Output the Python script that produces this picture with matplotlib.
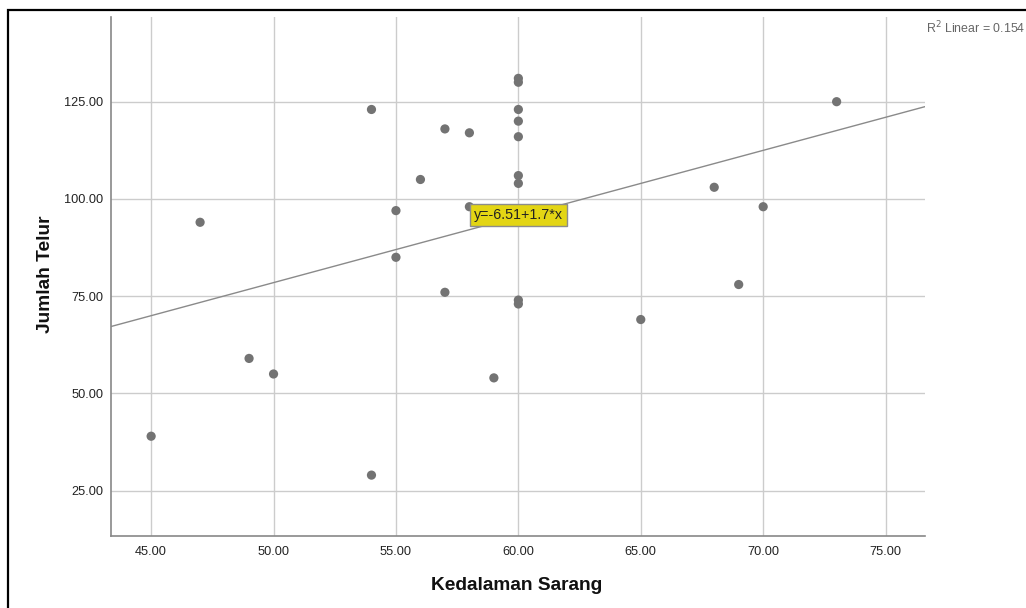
import numpy as np
import matplotlib.pyplot as plt
from matplotlib.patches import Rectangle

plt.rcParams['font.family'] = ['Liberation Sans', 'DejaVu Sans']

# nest depth (x) and number of eggs (y)
kedalaman = [45, 47, 49, 50, 54, 54, 55, 55, 56, 57, 57, 58, 58, 59,
             60, 60, 60, 60, 60, 60, 60, 60, 60,
             65, 68, 69, 70, 73]
jumlah_telur = [39, 94, 59, 55, 123, 29, 97, 85, 105, 118, 76, 117, 98, 54,
                131, 130, 123, 120, 116, 106, 104, 74, 73,
                69, 103, 78, 98, 125]

# fit line as printed on the chart
intercept = -6.51
slope = 1.7
r2 = 0.154

x_ticks = [45, 50, 55, 60, 65, 70, 75]
y_ticks = [25, 50, 75, 100, 125]

fig = plt.figure(figsize=(10.26, 6.08), dpi=100)
ax = fig.add_axes([110.5 / 1026, 1 - 536 / 608, (925 - 110.5) / 1026, (536 - 16.7) / 608])

ax.set_xlim(43.34, 76.61)
ax.set_ylim(13.35, 146.85)

# grid lines
ax.set_xticks(x_ticks)
ax.set_yticks(y_ticks)
ax.set_xticklabels(['%.2f' % v for v in x_ticks])
ax.set_yticklabels(['%.2f' % v for v in y_ticks])
ax.grid(True, color='#cccccc', linewidth=1.0)
ax.set_axisbelow(True)
ax.tick_params(length=0, labelsize=9.2, colors='#222222')
ax.tick_params(axis='x', pad=7.5)
ax.tick_params(axis='y', pad=5)

# spines: only left and bottom
ax.spines['right'].set_visible(False)
ax.spines['top'].set_visible(False)
for s in ['left', 'bottom']:
    ax.spines[s].set_color('#888888')
    ax.spines[s].set_linewidth(1.2)

# the points
ax.scatter(kedalaman, jumlah_telur, s=44, color='#737373', edgecolors='none', zorder=3)

# regression line over the whole x range
xl = np.array(ax.get_xlim())
ax.plot(xl, intercept + slope * xl, color='#8a8a8a', linewidth=1.0, zorder=2)

# equation label
ax.text(60, 95.8, 'y=-6.51+1.7*x', ha='center', va='center', fontsize=10.3, color='#222222',
        zorder=5, bbox=dict(boxstyle='square,pad=0.28', facecolor='#e3d514',
                            edgecolor='#8c8c8c', linewidth=1.0))

# R^2 in the top right corner
fig.text(926 / 1026, 1 - 28 / 608, 'R$^2$ Linear = %.3f' % r2, ha='left', va='center',
         fontsize=8.9, color='#666666')

# axis titles
fig.text(517 / 1026, 1 - 585 / 608, 'Kedalaman Sarang', ha='center', va='center',
         fontsize=13.8, fontweight='bold', color='#111111')
fig.text(45 / 1026, 1 - 274 / 608, 'Jumlah Telur', ha='center', va='center', rotation=90,
         fontsize=13.8, fontweight='bold', color='#111111')

# outer frame, running off the right and bottom edge
fig.patches.append(Rectangle((7.5 / 1026, -0.2), 1.2, 1.2 - 10 / 608, transform=fig.transFigure,
                             fill=False, edgecolor='black', linewidth=1.6))

plt.savefig('out.png', dpi=100)
